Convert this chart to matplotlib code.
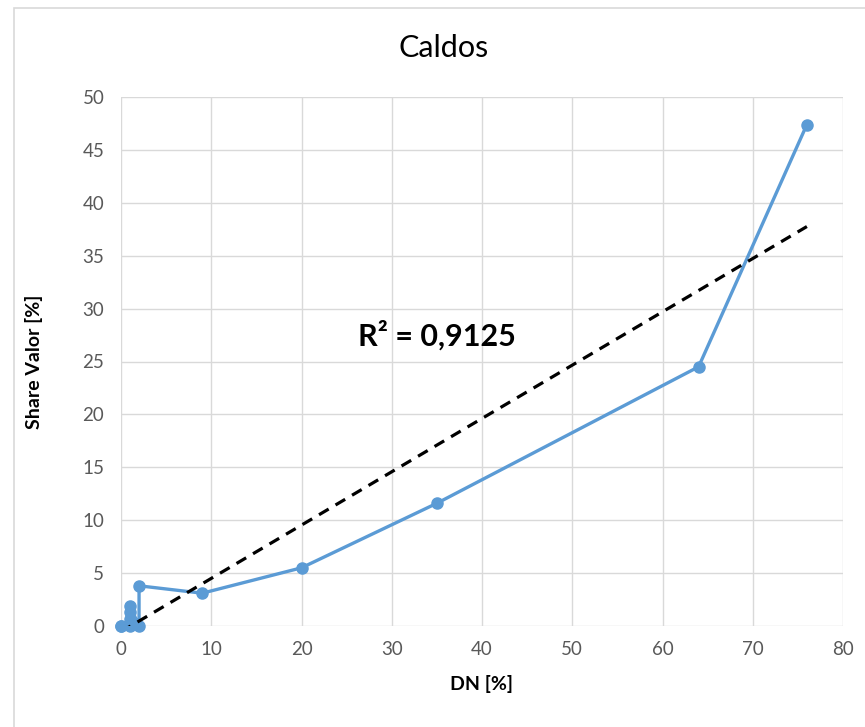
import matplotlib
matplotlib.use("Agg")
import matplotlib.pyplot as plt
from matplotlib.patches import Rectangle
import numpy as np

plt.rcParams['font.family'] = ['Lato', 'DejaVu Sans']

dn = [0, 0, 1, 1, 1, 1, 2, 2, 9, 20, 35, 64, 76]
share = [0, 0, 0, 0.7, 1.3, 1.9, 0, 3.8, 3.1, 5.5, 11.6, 24.5, 47.4]
x_ticks = [0, 10, 20, 30, 40, 50, 60, 70, 80]
y_ticks = [0, 5, 10, 15, 20, 25, 30, 35, 40, 45, 50]

fig = plt.figure(figsize=(8.65, 7.27), dpi=100)
fig.patches.append(Rectangle((14/865, -0.05), 1.2, 1.05 - 8/727, transform=fig.transFigure,
                             fill=False, edgecolor='#d9d9d9', linewidth=1.2))
ax = fig.add_axes([121/865, 1 - 626/727, (843 - 121)/865, (626 - 97)/727])

ax.plot(dn, share, color='#5B9BD5', linewidth=2.4, marker='o', markersize=8, zorder=3, clip_on=False)

coef = np.polyfit(dn, share, 1)
xt = np.array([min(dn), max(dn)])
ax.plot(xt, np.polyval(coef, xt), color='black', linestyle=(0, (3.5, 2.5)), linewidth=2.3, zorder=4)

ax.text(26.3, 27.5, 'R² = 0,9125', fontsize=22, fontweight='bold', va='center', ha='left', color='black')

ax.set_xlim(0, 80)
ax.set_ylim(0, 50)
ax.set_xticks(x_ticks)
ax.set_yticks(y_ticks)
ax.grid(True, color='#d9d9d9', linewidth=1)
ax.set_axisbelow(True)
for s in ax.spines.values():
    s.set_visible(False)
ax.tick_params(length=0, labelsize=13.5, labelcolor='#595959')
ax.tick_params(axis='x', pad=11)
ax.tick_params(axis='y', pad=12)
ax.set_xlabel('DN [%]', fontsize=14, fontweight='bold', labelpad=12)
ax.set_ylabel('Share Valor [%]', fontsize=14, fontweight='bold', labelpad=28)
fig.text(444/865, 1 - 48/727, 'Caldos', fontsize=22, ha='center', va='center', color='#000000')

fig.savefig('out.png', dpi=100)
